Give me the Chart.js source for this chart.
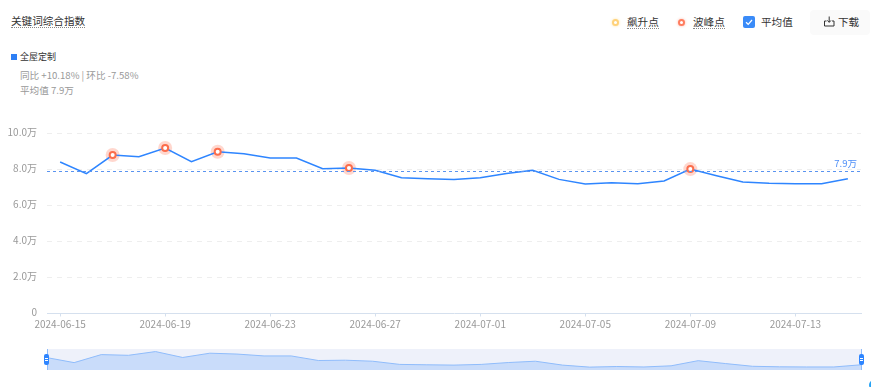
<!DOCTYPE html>
<html>
<head>
<meta charset="utf-8">
<script src="https://cdn.jsdelivr.net/npm/chart.js@4/dist/chart.umd.min.js"></script>
<style>
  html, body { margin: 0; padding: 0; background: #fff; overflow: hidden; }
  body { width: 871px; height: 387px; position: relative; font-family: "Noto Sans CJK SC", "Noto Sans", sans-serif; }
  .t { position: absolute; white-space: nowrap; line-height: 14px; }
  .dotted { border-bottom: 1px dotted #888; line-height: 13px; }
  #mainChart { position: absolute; left: 0; top: 0; }
  #overview { position: absolute; left: 47px; top: 349px; background: #eef1fa; }
  .dot { position: absolute; width: 3px; height: 3px; border-radius: 50%; background: #fff; border-width: 2px; border-style: solid; }
  .edge { position: absolute; top: 349px; width: 1px; height: 21px; background: #8fbcfb; }
  .handle { position: absolute; top: 354px; width: 5px; height: 11px; border-radius: 2px; background: #2e85ff; }
  .handle:after { content: ""; position: absolute; left: 1px; right: 1px; top: 4px; height: 1px; border-top: 1px solid #fff; border-bottom: 1px solid #fff; }
</style>
</head>
<body>
<div class="t dotted" style="left:11px;top:14px;font-size:10.6px;color:#333">关键词综合指数</div>

<div class="dot" style="left:612px;top:19px;border-color:#ffd27a;box-shadow:0 0 3px #ffe3a8"></div>
<div class="t dotted" style="left:627px;top:15px;font-size:10.6px;color:#333">飙升点</div>
<div class="dot" style="left:678px;top:19px;border-color:#ff7d5f;box-shadow:0 0 3px #ffb9a8"></div>
<div class="t dotted" style="left:693px;top:15px;font-size:10.6px;color:#333">波峰点</div>
<svg style="position:absolute;left:743px;top:16px" width="12" height="12" viewBox="0 0 12 12">
  <rect width="12" height="12" rx="2" fill="#3a8bf8"/>
  <path d="M3 6.2 L5.2 8.3 L9 4" fill="none" stroke="#fff" stroke-width="1.2"/>
</svg>
<div class="t" style="left:761px;top:15px;font-size:10.6px;color:#333">平均值</div>

<div style="position:absolute;left:810px;top:10px;width:60px;height:25px;border-radius:4px;background:#fafafa"></div>
<svg style="position:absolute;left:824px;top:16px" width="11" height="11" viewBox="0 0 11 11">
  <path d="M0.5 5 V10 H10 V5 H8 M2.5 5 H0.5" fill="none" stroke="#333" stroke-width="1"/>
  <path d="M5.2 0.5 V6 M3.4 4.4 L5.2 6.4 L7 4.4" fill="none" stroke="#333" stroke-width="1"/>
</svg>
<div class="t" style="left:838px;top:15px;font-size:10.6px;color:#333">下载</div>

<div style="position:absolute;left:11px;top:54px;width:6px;height:6px;background:#2e7ff5"></div>
<div class="t" style="left:20px;top:50px;font-size:9px;color:#333">全屋定制</div>
<div class="t" style="left:20px;top:68px;font-size:9.6px;color:#999">同比 +10.18% | 环比 -7.58%</div>
<div class="t" style="left:20px;top:83px;font-size:9.6px;color:#999">平均值 7.9万</div>

<canvas id="mainChart" width="871" height="340"></canvas>
<canvas id="overview" width="814" height="21"></canvas>
<div class="edge" style="left:47px"></div>
<div class="edge" style="left:861px"></div>
<div class="handle" style="left:44px"></div>
<div class="handle" style="left:859px"></div>
<div style="position:absolute;left:869px;top:380px;width:10px;height:10px;border-radius:50%;background:#27a3f5"></div>

<script>
const categories = ['2024-06-15','2024-06-16','2024-06-17','2024-06-18','2024-06-19','2024-06-20','2024-06-21','2024-06-22',
  '2024-06-23','2024-06-24','2024-06-25','2024-06-26','2024-06-27','2024-06-28','2024-06-29','2024-06-30',
  '2024-07-01','2024-07-02','2024-07-03','2024-07-04','2024-07-05','2024-07-06','2024-07-07','2024-07-08',
  '2024-07-09','2024-07-10','2024-07-11','2024-07-12','2024-07-13','2024-07-14','2024-07-15'];
const indexValues = [83900,77500,87800,86900,91700,84100,89600,88500,86100,86100,80200,80600,79300,75200,74700,74300,
  75200,77600,79300,74300,71700,72500,71900,73400,80000,76300,72800,72100,71900,71900,74700];
const peakDates = ['2024-06-17','2024-06-19','2024-06-21','2024-06-26','2024-07-09'];
const averageValue = 78800;
const averageLabel = '7.9万';
const yTicks = [0, 20000, 40000, 60000, 80000, 100000];

const peakValues = categories.map((d, i) => peakDates.includes(d) ? indexValues[i] : null);

// average line runs across the whole plot, so it is drawn after the datasets
const averageLine = {
  id: 'averageLine',
  afterDatasetsDraw(chart) {
    const { ctx, chartArea, scales } = chart;
    const y = scales.y.getPixelForValue(averageValue);
    ctx.save();
    ctx.strokeStyle = '#5a94f0';
    ctx.lineWidth = 1;
    ctx.setLineDash([3, 3]);
    ctx.beginPath();
    ctx.moveTo(chartArea.left, Math.round(y) + 0.5);
    ctx.lineTo(chartArea.right, Math.round(y) + 0.5);
    ctx.stroke();
    ctx.setLineDash([]);
    ctx.fillStyle = '#4d8ef7';
    ctx.font = '9.5px "Noto Sans CJK SC"';
    ctx.textAlign = 'right';
    ctx.textBaseline = 'bottom';
    ctx.fillText(averageLabel, chartArea.right - 4, y - 3);
    ctx.restore();
  }
};

new Chart(document.getElementById('mainChart'), {
  type: 'line',
  data: {
    labels: categories,
    datasets: [
      {
        data: peakValues,
        showLine: false,
        pointRadius: 7,
        pointHoverRadius: 7,
        pointBackgroundColor: 'rgba(255, 110, 80, 0.28)',
        pointBorderWidth: 0,
        order: 3
      },
      {
        data: indexValues,
        borderColor: '#2e85ff',
        borderWidth: 1.5,
        tension: 0,
        pointRadius: 0,
        order: 2
      },
      {
        data: peakValues,
        showLine: false,
        pointRadius: 3,
        pointBackgroundColor: '#fff',
        pointBorderColor: '#fb6d4c',
        pointBorderWidth: 2,
        order: 1
      }
    ]
  },
  options: {
    responsive: false,
    animation: false,
    layout: { padding: { top: 133, right: 10, left: 0, bottom: 0 } },
    plugins: { legend: { display: false }, tooltip: { enabled: false } },
    scales: {
      x: {
        offset: true,
        afterBuildTicks(scale) { scale.ticks = scale.ticks.filter((t, i) => i % 4 === 0); },
        afterFit(scale) { scale.height = 26.5; },
        grid: { drawOnChartArea: false, drawTicks: true, tickLength: 3, color: '#d5e0ee' },
        border: { color: '#d5e0ee' },
        ticks: {
          autoSkip: false,
          maxRotation: 0,
          padding: 2,
          color: '#999',
          font: { size: 10, family: '"Noto Sans CJK SC"' },
          callback(v) { return categories[v]; }
        }
      },
      y: {
        min: 0,
        max: 100000,
        afterBuildTicks(scale) { scale.ticks = yTicks.map(v => ({ value: v })); },
        afterFit(scale) { scale.width = 47; },
        grid: { color: '#eeeeee', drawTicks: false },
        border: { display: false, dash: [5, 5] },
        ticks: {
          padding: 10,
          labelOffset: -1,
          color: '#999',
          font: { size: 10, family: '"Noto Sans CJK SC"' },
          callback(v) { return v === 0 ? '0' : (v / 10000).toFixed(1) + '万'; }
        }
      }
    }
  },
  plugins: [averageLine]
});

new Chart(document.getElementById('overview'), {
  type: 'line',
  data: {
    labels: categories,
    datasets: [{
      data: indexValues,
      borderColor: '#8fbcfb',
      borderWidth: 1,
      backgroundColor: '#c9dcfa',
      fill: 'start',
      tension: 0,
      pointRadius: 0
    }]
  },
  options: {
    responsive: false,
    animation: false,
    plugins: { legend: { display: false }, tooltip: { enabled: false } },
    scales: {
      x: { display: false },
      y: { display: false, min: 68000, max: 95000 }
    }
  }
});
</script>
</body>
</html>
